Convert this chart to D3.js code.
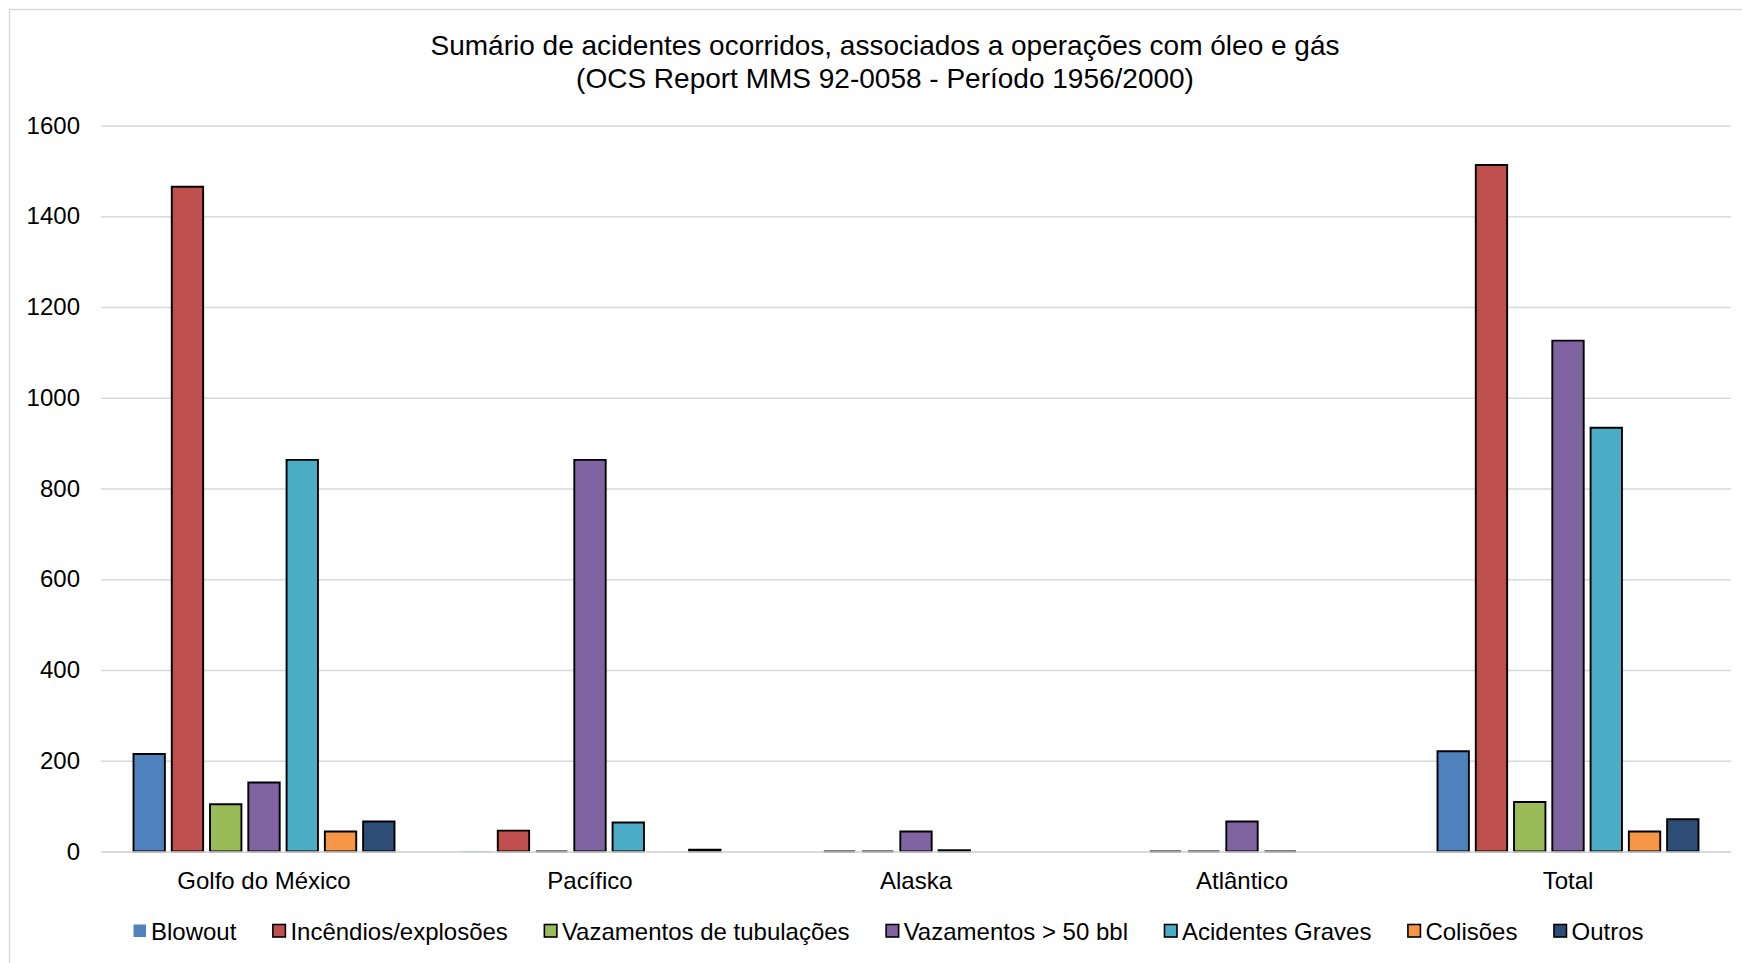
<!DOCTYPE html>
<html>
<head>
<meta charset="utf-8">
<script src="https://cdn.jsdelivr.net/npm/d3@7"></script>
<style>
  html, body { margin: 0; padding: 0; background: #fff; }
  svg { display: block; font-family: Arial, "Liberation Sans", sans-serif; }
</style>
</head>
<body>
<svg id="chart" width="1742" height="963"></svg>
<script>
// ---- data ----
const categories = ["Golfo do México", "Pacífico", "Alaska", "Atlântico", "Total"];
const seriesNames = ["Blowout", "Incêndios/explosões", "Vazamentos de tubulações", "Vazamentos > 50 bbl", "Acidentes Graves", "Colisões", "Outros"];
const seriesColors = ["#4F81BD", "#C0504D", "#9BBB59", "#8064A2", "#4BACC6", "#F79646", "#2C4D75"];
// values per series, in category order (null = no bar)
const blowout    = [215, 0, null, null, 221];
const incendios  = [1465, 46, 0, 0, 1513];
const tubulacoes = [104, 0, 0, 0, 109];
const vazamentos = [152, 863, 44, 66, 1126];
const acidentes  = [863, 64, 3, 0, 934];
const colisoes   = [44, null, null, null, 44];
const outros     = [66, 4, null, null, 71];
const seriesValues = [blowout, incendios, tubulacoes, vazamentos, acidentes, colisoes, outros];
const yTicks = [0, 200, 400, 600, 800, 1000, 1200, 1400, 1600];
const titleLines = ["Sumário de acidentes ocorridos, associados a operações com óleo e gás",
                    "(OCS Report MMS 92-0058 - Período 1956/2000)"];
// points drawn without black outline (series, category)
const noBorderPoints = [["Blowout", "Pacífico"]];

// ---- layout ----
const svg = d3.select("#chart");
const plot = { left: 101, right: 1731, top: 125.5, bottom: 851.5 };
const FONT = 24;

svg.append("rect")
  .attr("x", 9.5).attr("y", 9.5).attr("width", 1760).attr("height", 980)
  .attr("fill", "#fff").attr("stroke", "#D9D9D9").attr("stroke-width", 1.5);

const x0 = d3.scaleBand().domain(categories).range([plot.left, plot.right]);
const outerGap = 32.5;
const x1 = d3.scaleBand().domain(seriesNames)
  .range([outerGap, x0.bandwidth() - outerGap]).paddingInner(0.18);
const y = d3.scaleLinear().domain([0, 1600]).range([plot.bottom, plot.top]);

// gridlines + y labels
const yAxis = d3.axisLeft(y).tickValues(yTicks).tickFormat(d3.format("d"))
  .tickSizeInner(-(plot.right - plot.left)).tickSizeOuter(0).tickPadding(21);
const gy = svg.append("g").attr("transform", `translate(${plot.left},0)`).call(yAxis);
gy.select(".domain").remove();
gy.selectAll(".tick line").attr("stroke", "#D9D9D9").attr("stroke-width", 1.3);
gy.selectAll(".tick text").attr("font-size", FONT).attr("fill", "#000")
  .attr("font-family", "Arial, 'Liberation Sans', sans-serif");

// bars
const data = [];
seriesNames.forEach((s, si) => {
  categories.forEach((c, ci) => {
    const v = seriesValues[si][ci];
    if (v === null) return;
    data.push({ s, si, c, v });
  });
});
const isNoBorder = d => noBorderPoints.some(p => p[0] === d.s && p[1] === d.c);
svg.append("g").selectAll("path").data(data).join("path")
  .attr("d", d => {
    const xa = x0(d.c) + x1(d.s), w = x1.bandwidth();
    const y0 = y(0), yv = y(d.v);
    return `M${xa},${y0}V${yv}H${xa + w}V${y0}Z`;
  })
  .attr("fill", d => seriesColors[d.si])
  .attr("stroke", d => isNoBorder(d) ? seriesColors[d.si] : "#000")
  .attr("stroke-width", d => isNoBorder(d) ? 0.8 : 1.9)
  .attr("stroke-opacity", d => isNoBorder(d) ? 0.6 : 1);

// x axis
const xAxis = d3.axisBottom(x0).tickSize(0).tickPadding(20);
const gx = svg.append("g").attr("transform", `translate(0,${plot.bottom})`).call(xAxis);
gx.select(".domain").attr("stroke", "#D9D9D9").attr("stroke-width", 1.3);
gx.selectAll(".tick text").attr("font-size", FONT).attr("fill", "#000")
  .attr("font-family", "Arial, 'Liberation Sans', sans-serif");

// title
const title = svg.append("text").attr("x", 885).attr("y", 55)
  .attr("text-anchor", "middle").attr("font-size", 28).attr("fill", "#000");
titleLines.forEach((t, i) => {
  title.append("tspan").attr("x", 885).attr("dy", i === 0 ? 0 : 33).text(t);
});

// legend
const legend = svg.append("g");
let lx = 133;
const ly = 931;
seriesNames.forEach((s, i) => {
  const g = legend.append("g");
  g.append("rect").attr("x", lx + 0.5).attr("y", ly - 6.5).attr("width", 12.5).attr("height", 12.5)
    .attr("fill", seriesColors[i])
    .attr("stroke", i === 0 ? "none" : "#000").attr("stroke-width", 1.6);
  const t = g.append("text").attr("x", lx + 18).attr("y", ly + 8.5)
    .attr("font-size", FONT).attr("fill", "#000").text(s);
  lx += 18 + t.node().getComputedTextLength() + 36;
});
</script>
</body>
</html>
